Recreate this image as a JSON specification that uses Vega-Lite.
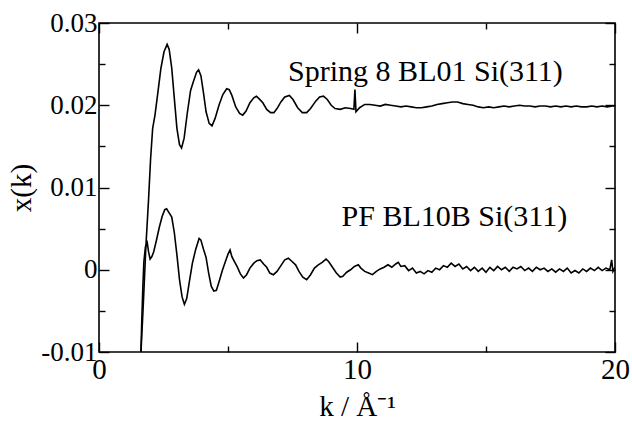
{
  "$schema": "https://vega.github.io/schema/vega-lite/v6.json",
  "width": 516,
  "height": 329,
  "autosize": "none",
  "padding": {"left": 99, "top": 23, "right": 17, "bottom": 70},
  "background": "white",
  "config": {
    "view": {"stroke": "black", "strokeWidth": 1.6},
    "font": "Liberation Serif",
    "axis": {
      "domain": false,
      "grid": false,
      "labelFlush": false,
      "labelOverlap": false,
      "tickColor": "black",
      "tickWidth": 1.4,
      "labelColor": "black",
      "labelFont": "Liberation Serif",
      "titleFont": "Liberation Serif",
      "titleFontSize": 29,
      "titleFontWeight": "normal",
      "titleColor": "black"
    }
  },
  "datasets": {
    "curves": [
      {"s": "Spring8", "k": 1.62, "v": -0.0105},
      {"s": "Spring8", "k": 1.72, "v": -0.004},
      {"s": "Spring8", "k": 1.82, "v": 0.003},
      {"s": "Spring8", "k": 1.92, "v": 0.0085},
      {"s": "Spring8", "k": 2.0, "v": 0.0135},
      {"s": "Spring8", "k": 2.08, "v": 0.0172},
      {"s": "Spring8", "k": 2.17, "v": 0.0188},
      {"s": "Spring8", "k": 2.28, "v": 0.0215},
      {"s": "Spring8", "k": 2.4, "v": 0.0245},
      {"s": "Spring8", "k": 2.52, "v": 0.0265},
      {"s": "Spring8", "k": 2.64, "v": 0.0274},
      {"s": "Spring8", "k": 2.72, "v": 0.0268},
      {"s": "Spring8", "k": 2.82, "v": 0.0245},
      {"s": "Spring8", "k": 2.92, "v": 0.0208},
      {"s": "Spring8", "k": 3.02, "v": 0.0172},
      {"s": "Spring8", "k": 3.12, "v": 0.0152},
      {"s": "Spring8", "k": 3.2, "v": 0.0148},
      {"s": "Spring8", "k": 3.3, "v": 0.016},
      {"s": "Spring8", "k": 3.42, "v": 0.019},
      {"s": "Spring8", "k": 3.55, "v": 0.0218},
      {"s": "Spring8", "k": 3.65, "v": 0.0228},
      {"s": "Spring8", "k": 3.78, "v": 0.024},
      {"s": "Spring8", "k": 3.86, "v": 0.0243},
      {"s": "Spring8", "k": 3.95, "v": 0.0236},
      {"s": "Spring8", "k": 4.05, "v": 0.0215},
      {"s": "Spring8", "k": 4.15, "v": 0.0192},
      {"s": "Spring8", "k": 4.27, "v": 0.0178},
      {"s": "Spring8", "k": 4.38, "v": 0.0175},
      {"s": "Spring8", "k": 4.5, "v": 0.0184},
      {"s": "Spring8", "k": 4.65, "v": 0.02},
      {"s": "Spring8", "k": 4.8, "v": 0.0213},
      {"s": "Spring8", "k": 4.95, "v": 0.022},
      {"s": "Spring8", "k": 5.05, "v": 0.0219},
      {"s": "Spring8", "k": 5.15, "v": 0.0212},
      {"s": "Spring8", "k": 5.3, "v": 0.0198},
      {"s": "Spring8", "k": 5.45, "v": 0.019},
      {"s": "Spring8", "k": 5.57, "v": 0.0188},
      {"s": "Spring8", "k": 5.7, "v": 0.0193},
      {"s": "Spring8", "k": 5.85, "v": 0.0203},
      {"s": "Spring8", "k": 6.0, "v": 0.0209},
      {"s": "Spring8", "k": 6.1, "v": 0.0211},
      {"s": "Spring8", "k": 6.2, "v": 0.0208},
      {"s": "Spring8", "k": 6.35, "v": 0.0203},
      {"s": "Spring8", "k": 6.5, "v": 0.0195},
      {"s": "Spring8", "k": 6.65, "v": 0.0191},
      {"s": "Spring8", "k": 6.78, "v": 0.0191},
      {"s": "Spring8", "k": 6.9, "v": 0.0196},
      {"s": "Spring8", "k": 7.05, "v": 0.0204},
      {"s": "Spring8", "k": 7.2, "v": 0.021},
      {"s": "Spring8", "k": 7.38, "v": 0.0212},
      {"s": "Spring8", "k": 7.52, "v": 0.0207},
      {"s": "Spring8", "k": 7.7, "v": 0.0197},
      {"s": "Spring8", "k": 7.88, "v": 0.0191},
      {"s": "Spring8", "k": 8.05, "v": 0.0191},
      {"s": "Spring8", "k": 8.2, "v": 0.0196},
      {"s": "Spring8", "k": 8.4, "v": 0.0205},
      {"s": "Spring8", "k": 8.55, "v": 0.021},
      {"s": "Spring8", "k": 8.7, "v": 0.0211},
      {"s": "Spring8", "k": 8.85, "v": 0.0207},
      {"s": "Spring8", "k": 9.0, "v": 0.02},
      {"s": "Spring8", "k": 9.15, "v": 0.0196},
      {"s": "Spring8", "k": 9.35, "v": 0.0195},
      {"s": "Spring8", "k": 9.55, "v": 0.0197},
      {"s": "Spring8", "k": 9.75, "v": 0.0196},
      {"s": "Spring8", "k": 9.88, "v": 0.0195},
      {"s": "Spring8", "k": 9.92, "v": 0.0219},
      {"s": "Spring8", "k": 9.96, "v": 0.0192},
      {"s": "Spring8", "k": 10.1, "v": 0.0197},
      {"s": "Spring8", "k": 10.3, "v": 0.0201},
      {"s": "Spring8", "k": 10.5, "v": 0.0201},
      {"s": "Spring8", "k": 10.7, "v": 0.02},
      {"s": "Spring8", "k": 10.9, "v": 0.0199},
      {"s": "Spring8", "k": 11.1, "v": 0.0201},
      {"s": "Spring8", "k": 11.3, "v": 0.02},
      {"s": "Spring8", "k": 11.5, "v": 0.0199},
      {"s": "Spring8", "k": 11.7, "v": 0.0198},
      {"s": "Spring8", "k": 11.9, "v": 0.0199},
      {"s": "Spring8", "k": 12.1, "v": 0.0198},
      {"s": "Spring8", "k": 12.3, "v": 0.0197},
      {"s": "Spring8", "k": 12.5, "v": 0.0197},
      {"s": "Spring8", "k": 12.7, "v": 0.0198},
      {"s": "Spring8", "k": 12.9, "v": 0.0199},
      {"s": "Spring8", "k": 13.1, "v": 0.0201},
      {"s": "Spring8", "k": 13.3, "v": 0.0202},
      {"s": "Spring8", "k": 13.5, "v": 0.0203},
      {"s": "Spring8", "k": 13.7, "v": 0.0204},
      {"s": "Spring8", "k": 13.9, "v": 0.0204},
      {"s": "Spring8", "k": 14.1, "v": 0.0202},
      {"s": "Spring8", "k": 14.3, "v": 0.0201},
      {"s": "Spring8", "k": 14.5, "v": 0.02},
      {"s": "Spring8", "k": 14.7, "v": 0.0198},
      {"s": "Spring8", "k": 14.9, "v": 0.0197},
      {"s": "Spring8", "k": 15.1, "v": 0.0198},
      {"s": "Spring8", "k": 15.3, "v": 0.0197},
      {"s": "Spring8", "k": 15.5, "v": 0.0198},
      {"s": "Spring8", "k": 15.7, "v": 0.0199},
      {"s": "Spring8", "k": 15.9, "v": 0.0198},
      {"s": "Spring8", "k": 16.1, "v": 0.0199},
      {"s": "Spring8", "k": 16.3, "v": 0.02},
      {"s": "Spring8", "k": 16.5, "v": 0.0199},
      {"s": "Spring8", "k": 16.7, "v": 0.0199},
      {"s": "Spring8", "k": 16.9, "v": 0.0198},
      {"s": "Spring8", "k": 17.1, "v": 0.0199},
      {"s": "Spring8", "k": 17.3, "v": 0.0199},
      {"s": "Spring8", "k": 17.5, "v": 0.0198},
      {"s": "Spring8", "k": 17.7, "v": 0.0199},
      {"s": "Spring8", "k": 17.9, "v": 0.0198},
      {"s": "Spring8", "k": 18.1, "v": 0.0199},
      {"s": "Spring8", "k": 18.3, "v": 0.0198},
      {"s": "Spring8", "k": 18.5, "v": 0.0199},
      {"s": "Spring8", "k": 18.7, "v": 0.0198},
      {"s": "Spring8", "k": 18.9, "v": 0.0198},
      {"s": "Spring8", "k": 19.1, "v": 0.0199},
      {"s": "Spring8", "k": 19.3, "v": 0.0198},
      {"s": "Spring8", "k": 19.5, "v": 0.0199},
      {"s": "Spring8", "k": 19.7, "v": 0.0198},
      {"s": "Spring8", "k": 19.9, "v": 0.0199},
      {"s": "Spring8", "k": 20.0, "v": 0.0199},
      {"s": "PF", "k": 1.62, "v": -0.0105},
      {"s": "PF", "k": 1.66, "v": -0.006},
      {"s": "PF", "k": 1.7, "v": -0.002},
      {"s": "PF", "k": 1.74, "v": 0.001},
      {"s": "PF", "k": 1.8, "v": 0.0028},
      {"s": "PF", "k": 1.87, "v": 0.0033},
      {"s": "PF", "k": 1.92, "v": 0.0022},
      {"s": "PF", "k": 1.98, "v": 0.0013},
      {"s": "PF", "k": 2.05, "v": 0.0016},
      {"s": "PF", "k": 2.12, "v": 0.0022},
      {"s": "PF", "k": 2.22, "v": 0.0035},
      {"s": "PF", "k": 2.34, "v": 0.0052},
      {"s": "PF", "k": 2.45, "v": 0.0065},
      {"s": "PF", "k": 2.55, "v": 0.0073},
      {"s": "PF", "k": 2.62, "v": 0.0074},
      {"s": "PF", "k": 2.7, "v": 0.007},
      {"s": "PF", "k": 2.82, "v": 0.0064},
      {"s": "PF", "k": 2.92, "v": 0.0045},
      {"s": "PF", "k": 3.02, "v": 0.0018},
      {"s": "PF", "k": 3.12, "v": -0.0012},
      {"s": "PF", "k": 3.22, "v": -0.0033},
      {"s": "PF", "k": 3.31, "v": -0.0042},
      {"s": "PF", "k": 3.4, "v": -0.0035},
      {"s": "PF", "k": 3.5, "v": -0.0015},
      {"s": "PF", "k": 3.62, "v": 0.0008},
      {"s": "PF", "k": 3.75, "v": 0.0025},
      {"s": "PF", "k": 3.88, "v": 0.0038},
      {"s": "PF", "k": 3.95, "v": 0.0036},
      {"s": "PF", "k": 4.05, "v": 0.0025},
      {"s": "PF", "k": 4.15, "v": 0.0015},
      {"s": "PF", "k": 4.25, "v": -0.0004},
      {"s": "PF", "k": 4.35, "v": -0.002},
      {"s": "PF", "k": 4.45, "v": -0.0026},
      {"s": "PF", "k": 4.55, "v": -0.0025},
      {"s": "PF", "k": 4.65, "v": -0.0015},
      {"s": "PF", "k": 4.78, "v": -0.0001},
      {"s": "PF", "k": 4.9, "v": 0.001},
      {"s": "PF", "k": 5.0, "v": 0.0019},
      {"s": "PF", "k": 5.08, "v": 0.0024},
      {"s": "PF", "k": 5.15, "v": 0.0016},
      {"s": "PF", "k": 5.25, "v": 0.001},
      {"s": "PF", "k": 5.35, "v": 0.0004},
      {"s": "PF", "k": 5.48, "v": -0.0005},
      {"s": "PF", "k": 5.6, "v": -0.001},
      {"s": "PF", "k": 5.72, "v": -0.0006},
      {"s": "PF", "k": 5.85, "v": 0.0002},
      {"s": "PF", "k": 6.0, "v": 0.0008},
      {"s": "PF", "k": 6.12, "v": 0.0011},
      {"s": "PF", "k": 6.25, "v": 0.0012},
      {"s": "PF", "k": 6.38, "v": 0.0007},
      {"s": "PF", "k": 6.5, "v": 0.0003},
      {"s": "PF", "k": 6.62, "v": -0.0004},
      {"s": "PF", "k": 6.76, "v": -0.0006},
      {"s": "PF", "k": 6.9, "v": -0.0002},
      {"s": "PF", "k": 7.05, "v": 0.0005},
      {"s": "PF", "k": 7.2, "v": 0.0012},
      {"s": "PF", "k": 7.34, "v": 0.0014},
      {"s": "PF", "k": 7.48, "v": 0.001},
      {"s": "PF", "k": 7.62, "v": 0.0006},
      {"s": "PF", "k": 7.75, "v": -0.0002},
      {"s": "PF", "k": 7.9, "v": -0.0009},
      {"s": "PF", "k": 8.05, "v": -0.0012},
      {"s": "PF", "k": 8.2, "v": -0.0006},
      {"s": "PF", "k": 8.35, "v": 0.0002},
      {"s": "PF", "k": 8.5, "v": 0.0006},
      {"s": "PF", "k": 8.65, "v": 0.0009},
      {"s": "PF", "k": 8.8, "v": 0.0013},
      {"s": "PF", "k": 8.9, "v": 0.001},
      {"s": "PF", "k": 9.05, "v": 0.0003},
      {"s": "PF", "k": 9.2, "v": -0.0004},
      {"s": "PF", "k": 9.35, "v": -0.0009},
      {"s": "PF", "k": 9.45, "v": -0.0008},
      {"s": "PF", "k": 9.6, "v": -0.0003},
      {"s": "PF", "k": 9.75, "v": 0.0},
      {"s": "PF", "k": 9.9, "v": 0.0004},
      {"s": "PF", "k": 10.05, "v": 0.0006},
      {"s": "PF", "k": 10.15, "v": 0.0002},
      {"s": "PF", "k": 10.3, "v": -0.0002},
      {"s": "PF", "k": 10.45, "v": -0.0004},
      {"s": "PF", "k": 10.6, "v": -0.0006},
      {"s": "PF", "k": 10.75, "v": -0.0002},
      {"s": "PF", "k": 10.9, "v": 0.0001},
      {"s": "PF", "k": 11.05, "v": 0.0003},
      {"s": "PF", "k": 11.2, "v": 0.0006},
      {"s": "PF", "k": 11.35, "v": 0.0003},
      {"s": "PF", "k": 11.5, "v": 0.0007},
      {"s": "PF", "k": 11.6, "v": 0.0009},
      {"s": "PF", "k": 11.7, "v": 0.0004},
      {"s": "PF", "k": 11.85, "v": 0.0005},
      {"s": "PF", "k": 12.0, "v": -0.0001},
      {"s": "PF", "k": 12.15, "v": 0.0002},
      {"s": "PF", "k": 12.3, "v": -0.0004},
      {"s": "PF", "k": 12.45, "v": -0.0002},
      {"s": "PF", "k": 12.6, "v": -0.0005},
      {"s": "PF", "k": 12.75, "v": -0.0001},
      {"s": "PF", "k": 12.9, "v": -0.0003},
      {"s": "PF", "k": 13.05, "v": 0.0002},
      {"s": "PF", "k": 13.2, "v": 0.0},
      {"s": "PF", "k": 13.35, "v": 0.0005},
      {"s": "PF", "k": 13.5, "v": 0.0003},
      {"s": "PF", "k": 13.65, "v": 0.0008},
      {"s": "PF", "k": 13.8, "v": 0.0004},
      {"s": "PF", "k": 13.95, "v": 0.0007},
      {"s": "PF", "k": 14.1, "v": 0.0001},
      {"s": "PF", "k": 14.25, "v": 0.0004},
      {"s": "PF", "k": 14.4, "v": -0.0001},
      {"s": "PF", "k": 14.55, "v": 0.0003},
      {"s": "PF", "k": 14.7, "v": -0.0002},
      {"s": "PF", "k": 14.85, "v": 0.0002},
      {"s": "PF", "k": 15.0, "v": -0.0003},
      {"s": "PF", "k": 15.15, "v": 0.0003},
      {"s": "PF", "k": 15.3, "v": -0.0001},
      {"s": "PF", "k": 15.45, "v": 0.0004},
      {"s": "PF", "k": 15.6, "v": 0.0},
      {"s": "PF", "k": 15.75, "v": 0.0003},
      {"s": "PF", "k": 15.9, "v": -0.0002},
      {"s": "PF", "k": 16.05, "v": 0.0003},
      {"s": "PF", "k": 16.2, "v": 0.0001},
      {"s": "PF", "k": 16.35, "v": 0.0004},
      {"s": "PF", "k": 16.5, "v": -0.0001},
      {"s": "PF", "k": 16.65, "v": 0.0002},
      {"s": "PF", "k": 16.8, "v": -0.0002},
      {"s": "PF", "k": 16.95, "v": 0.0003},
      {"s": "PF", "k": 17.1, "v": 0.0},
      {"s": "PF", "k": 17.25, "v": 0.0002},
      {"s": "PF", "k": 17.4, "v": -0.0002},
      {"s": "PF", "k": 17.55, "v": 0.0001},
      {"s": "PF", "k": 17.7, "v": -0.0003},
      {"s": "PF", "k": 17.85, "v": 0.0001},
      {"s": "PF", "k": 18.0, "v": -0.0002},
      {"s": "PF", "k": 18.15, "v": 0.0002},
      {"s": "PF", "k": 18.3, "v": -0.0004},
      {"s": "PF", "k": 18.45, "v": -0.0001},
      {"s": "PF", "k": 18.6, "v": -0.0004},
      {"s": "PF", "k": 18.75, "v": 0.0001},
      {"s": "PF", "k": 18.9, "v": -0.0002},
      {"s": "PF", "k": 19.05, "v": 0.0002},
      {"s": "PF", "k": 19.2, "v": -0.0001},
      {"s": "PF", "k": 19.35, "v": 0.0003},
      {"s": "PF", "k": 19.5, "v": -0.0001},
      {"s": "PF", "k": 19.65, "v": 0.0002},
      {"s": "PF", "k": 19.8, "v": 0.0},
      {"s": "PF", "k": 19.87, "v": 0.0012},
      {"s": "PF", "k": 19.92, "v": -0.0002},
      {"s": "PF", "k": 20.0, "v": 0.0003}
    ],
    "labels": [
      {"t": "Spring 8 BL01 Si(311)", "k": 7.33, "v": 0.0229},
      {"t": "PF BL10B Si(311)", "k": 9.4, "v": 0.00535}
    ]
  },
  "layer": [
    {
      "data": {"name": "curves"},
      "mark": {"type": "line", "color": "black", "strokeWidth": 1.6, "clip": true},
      "encoding": {
        "x": {
          "field": "k", "type": "quantitative",
          "scale": {"domain": [0, 20], "nice": false, "zero": false},
          "axis": {
            "orient": "bottom",
            "values": [0, 5, 10, 15, 20],
            "tickSize": {"condition": {"test": "datum.value % 10 === 0", "value": -10}, "value": -6},
            "labelExpr": "datum.value % 10 === 0 ? datum.label : ''",
            "labelFontSize": 29,
            "labelPadding": 13,
            "title": "k / Å⁻¹",
            "titlePadding": 4
          }
        },
        "y": {
          "field": "v", "type": "quantitative",
          "scale": {"domain": [-0.01, 0.03], "nice": false, "zero": false},
          "axis": {
            "orient": "left",
            "values": [-0.01, -0.005, 0, 0.005, 0.01, 0.015, 0.02, 0.025, 0.03],
            "tickSize": {"condition": {"test": "abs(datum.value*100 - round(datum.value*100)) < 0.01", "value": -10}, "value": -6},
            "labelExpr": "abs(datum.value*100 - round(datum.value*100)) < 0.01 ? (datum.value < -0.005 ? '-0.01' : (abs(datum.value) < 0.001 ? '0' : format(datum.value, '.2f'))) : ''",
            "labelFontSize": 27,
            "labelPadding": 12,
            "title": "x(k)",
            "titlePadding": 4
          }
        },
        "detail": {"field": "s"}
      }
    },
    {
      "data": {"name": "labels"},
      "mark": {"type": "text", "align": "left", "baseline": "alphabetic", "font": "Liberation Serif", "fontSize": 30, "color": "black"},
      "encoding": {
        "x": {
          "field": "k", "type": "quantitative",
          "axis": {
            "orient": "top",
            "values": [0, 5, 10, 15, 20],
            "tickSize": {"condition": {"test": "datum.value % 10 === 0", "value": -10}, "value": -6},
            "labels": false,
            "title": null
          }
        },
        "y": {
          "field": "v", "type": "quantitative",
          "axis": {
            "orient": "right",
            "values": [-0.01, -0.005, 0, 0.005, 0.01, 0.015, 0.02, 0.025, 0.03],
            "tickSize": {"condition": {"test": "abs(datum.value*100 - round(datum.value*100)) < 0.01", "value": -10}, "value": -6},
            "labels": false,
            "title": null
          }
        },
        "text": {"field": "t"}
      }
    }
  ],
  "resolve": {"axis": {"x": "independent", "y": "independent"}}
}
